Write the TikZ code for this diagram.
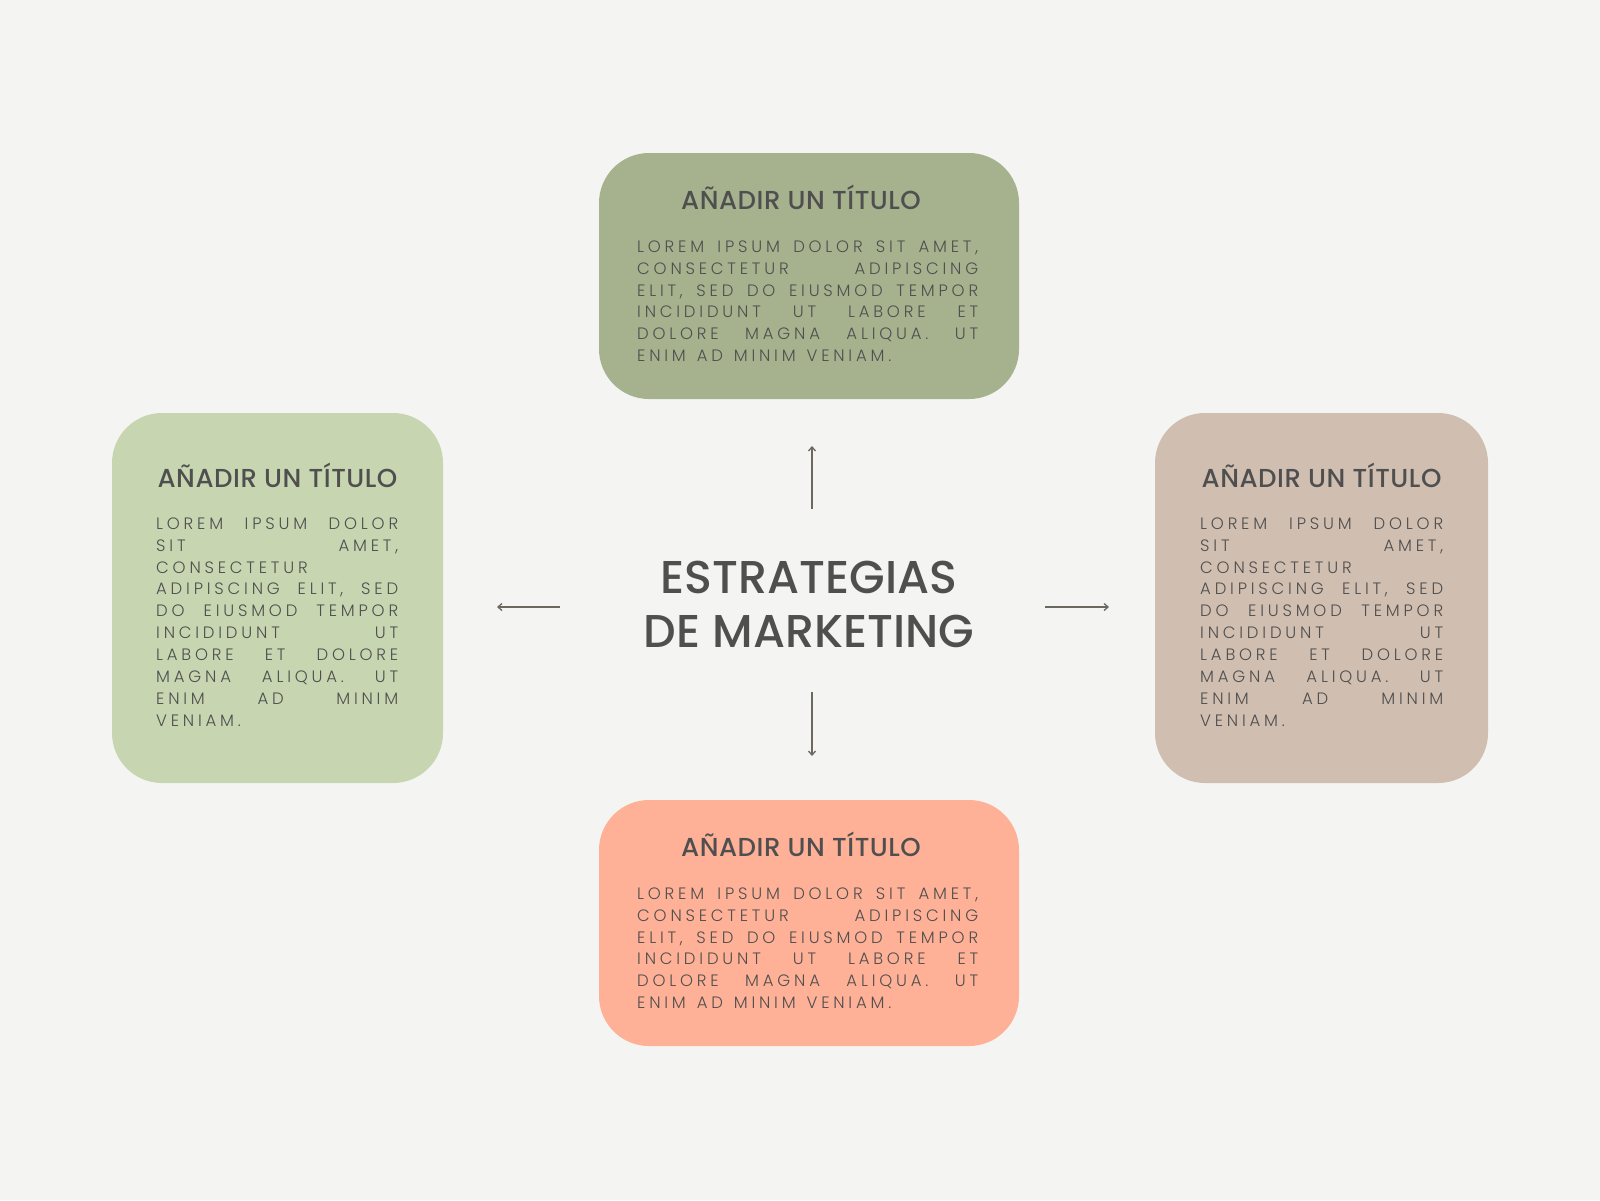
\documentclass[tikz,border=0pt]{standalone}
\usepackage{fontspec}
\setmainfont{Poppins}
\newfontfamily\titulofont[LetterSpace=2]{Poppins Medium}
\newfontfamily\centrofont{Poppins Medium}
\newfontfamily\cuerpofont[LetterSpace=23]{Poppins Light}
\usetikzlibrary{arrows.meta}

\definecolor{fondo}{HTML}{F4F4F2}
\definecolor{verdeoscuro}{HTML}{A6B28E}
\definecolor{verdeclaro}{HTML}{C8D5B1}
\definecolor{arena}{HTML}{D0BEB0}
\definecolor{salmon}{HTML}{FFB197}
\definecolor{tinta}{HTML}{4F4F4F}
\definecolor{linea}{HTML}{6C685F}

% linea justificada / linea final
\newcommand{\lj}[1]{\rule{0pt}{14pt}\makebox[\hsize][s]{\spaceskip=.3em plus 1fil\relax #1}\\}
\newcommand{\lf}[1]{\rule{0pt}{14pt}{\spaceskip=.66em\relax #1}}

\tikzset{
  caja/.style={rounded corners=50pt, inner sep=0pt},
  titulo/.style={font=\titulofont\fontsize{26}{30}\selectfont, text=tinta, anchor=base, inner sep=0pt},
  cuerpo/.style={font=\cuerpofont\fontsize{16.5}{21.9}\selectfont, text=tinta, anchor=north west, inner sep=0pt, align=left},
  centro/.style={font=\centrofont\fontsize{46}{54}\selectfont, text=tinta, anchor=north, inner sep=0pt, align=center},
  flecha/.style={draw=linea, line width=1.3pt, -{Straight Barb[length=4pt,width=7pt]}}
}

\begin{document}
\begin{tikzpicture}[x=1pt,y=-1pt]
  \fill[fondo] (0,0) rectangle (1600,1200);
  \useasboundingbox (0,0) rectangle (1600,1200);

  % cajas
  \node[caja, fill=verdeoscuro, minimum width=420pt, minimum height=246pt] (arriba) at (809,276) {};
  \node[caja, fill=salmon, minimum width=420pt, minimum height=246pt] (abajo) at (809,923) {};
  \node[caja, fill=verdeclaro, minimum width=331pt, minimum height=370pt] (izq) at (277.5,598) {};
  \node[caja, fill=arena, minimum width=333pt, minimum height=370pt] (der) at (1321.5,598) {};

  % titulos
  \node[titulo] (arriba-t) at (801,209) {AÑADIR UN TÍTULO};
  \node[titulo] (abajo-t) at (801,856) {AÑADIR UN TÍTULO};
  \node[titulo] (izq-t) at (277.5,487) {AÑADIR UN TÍTULO};
  \node[titulo] (der-t) at (1321.5,487) {AÑADIR UN TÍTULO};

  % textos
  \node[cuerpo, text width=341pt] (arriba-c) at (637,238) {%
    \lj{LOREM IPSUM DOLOR SIT AMET,}
    \lj{CONSECTETUR ADIPISCING}
    \lj{ELIT, SED DO EIUSMOD TEMPOR}
    \lj{INCIDIDUNT UT LABORE ET}
    \lj{DOLORE MAGNA ALIQUA. UT}
    \lf{ENIM AD MINIM VENIAM.}};
  \node[cuerpo, text width=341pt] (abajo-c) at (637,885) {%
    \lj{LOREM IPSUM DOLOR SIT AMET,}
    \lj{CONSECTETUR ADIPISCING}
    \lj{ELIT, SED DO EIUSMOD TEMPOR}
    \lj{INCIDIDUNT UT LABORE ET}
    \lj{DOLORE MAGNA ALIQUA. UT}
    \lf{ENIM AD MINIM VENIAM.}};
  \node[cuerpo, text width=242pt] (izq-c) at (156,515) {%
    \lj{LOREM IPSUM DOLOR}
    \lj{SIT AMET,}
    \lf{CONSECTETUR}\\
    \lj{ADIPISCING ELIT, SED}
    \lj{DO EIUSMOD TEMPOR}
    \lj{INCIDIDUNT UT}
    \lj{LABORE ET DOLORE}
    \lj{MAGNA ALIQUA. UT}
    \lj{ENIM AD MINIM}
    \lf{VENIAM.}};
  \node[cuerpo, text width=243pt] (der-c) at (1200,515) {%
    \lj{LOREM IPSUM DOLOR}
    \lj{SIT AMET,}
    \lf{CONSECTETUR}\\
    \lj{ADIPISCING ELIT, SED}
    \lj{DO EIUSMOD TEMPOR}
    \lj{INCIDIDUNT UT}
    \lj{LABORE ET DOLORE}
    \lj{MAGNA ALIQUA. UT}
    \lj{ENIM AD MINIM}
    \lf{VENIAM.}};

  % centro
  \node[centro] (tema) at (809,553) {\rule{0pt}{40pt}ESTRATEGIAS\\DE MARKETING};

  % flechas
  \coordinate (sube-a) at (812,509);
  \coordinate (sube-b) at (812,446);
  \coordinate (baja-a) at (812,692);
  \coordinate (baja-b) at (812,756);
  \coordinate (izq-a) at (560,607);
  \coordinate (izq-b) at (497,607);
  \coordinate (der-a) at (1045,607);
  \coordinate (der-b) at (1109,607);
  \draw[flecha] (sube-a) -- (sube-b);
  \draw[flecha] (baja-a) -- (baja-b);
  \draw[flecha] (izq-a) -- (izq-b);
  \draw[flecha] (der-a) -- (der-b);
\end{tikzpicture}
\end{document}
